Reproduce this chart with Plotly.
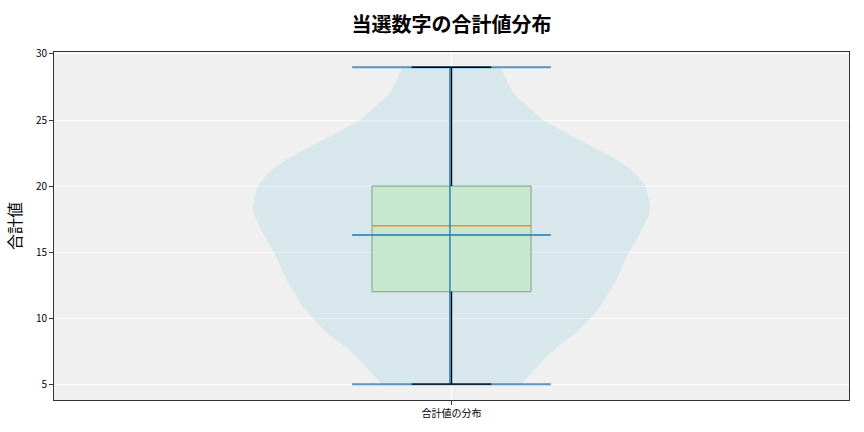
import plotly.graph_objects as go

# summary values
category = "合計値の分布"
position = 1
data_min = 5
data_max = 29
q1 = 12
median = 17
q3 = 20
mean = 16.3

# violin outline: value level and relative density (1.0 = widest)
violin_y = [5.0, 5.8, 6.8, 7.8, 8.8, 9.85, 10.9, 11.9, 12.9, 13.9, 14.9, 15.9, 16.9,
            17.9, 18.5, 18.9, 20.0, 21.0, 22.0, 23.0, 24.0, 25.0, 25.8, 27.0, 29.0]
violin_density = [0.35, 0.40, 0.46, 0.53, 0.62, 0.69, 0.75, 0.79, 0.83, 0.86, 0.89, 0.93, 0.965,
                  0.995, 1.0, 0.995, 0.975, 0.92, 0.835, 0.71, 0.58, 0.46, 0.40, 0.31, 0.245]

y_ticks = [5, 10, 15, 20, 25, 30]

VIOLIN_HALF = 0.25
BOX_HALF = 0.1
CAP_HALF = 0.05
LINE_HALF = 0.125
FONT = "Noto Sans CJK JP"

fig = go.Figure()

# violin body
left = [position - d * VIOLIN_HALF for d in violin_density]
right = [position + d * VIOLIN_HALF for d in violin_density]
fig.add_trace(go.Scatter(
    x=left + right[::-1], y=violin_y + violin_y[::-1],
    fill='toself', fillcolor='rgba(173,216,230,0.35)',
    line=dict(width=0), mode='lines', hoverinfo='skip'))

# box
fig.add_trace(go.Scatter(
    x=[position - BOX_HALF, position + BOX_HALF, position + BOX_HALF, position - BOX_HALF, position - BOX_HALF],
    y=[q1, q1, q3, q3, q1],
    fill='toself', fillcolor='#c5e8cf', mode='lines',
    line=dict(color='rgba(110,140,120,0.8)', width=1), hoverinfo='skip'))

# median
fig.add_trace(go.Scatter(x=[position - BOX_HALF, position + BOX_HALF], y=[median, median],
                         mode='lines', line=dict(color='#ec8b2c', width=1.5)))

# violin center bar and extrema / mean lines
blue = 'rgba(31,119,180,0.75)'
fig.add_trace(go.Scatter(x=[position - 0.002, position - 0.002], y=[data_min, data_max],
                         mode='lines', line=dict(color=blue, width=1.8)))
for v in [data_min, data_max, mean]:
    fig.add_trace(go.Scatter(x=[position - LINE_HALF, position + LINE_HALF], y=[v, v],
                             mode='lines', line=dict(color=blue, width=2)))

# whiskers and caps
for a, b in [(q3, data_max), (q1, data_min)]:
    fig.add_trace(go.Scatter(x=[position, position], y=[a, b], mode='lines',
                             line=dict(color='black', width=1.4)))
for v in [data_min, data_max]:
    fig.add_trace(go.Scatter(x=[position - CAP_HALF, position + CAP_HALF], y=[v, v],
                             mode='lines', line=dict(color='black', width=1.4)))

fig.update_layout(
    width=864, height=432,
    margin=dict(l=54, r=15, t=52, b=32),
    paper_bgcolor='white', plot_bgcolor='#f0f0f0',
    showlegend=False,
    font=dict(family=FONT, color='black', size=10),
    title=dict(text="<b>当選数字の合計値分布</b>", x=0.5, xref='paper', y=1 - 25 / 432, yref='container',
               xanchor='center', yanchor='middle', font=dict(size=20, family=FONT)),
    xaxis=dict(range=[0.5, 1.5], tickvals=[position], ticktext=[category],
               showgrid=True, gridcolor='white', gridwidth=1, zeroline=False,
               showline=True, linecolor='#333', linewidth=1, mirror=True,
               ticks='outside', ticklen=4, tickcolor='#333', tickfont=dict(size=10)),
    yaxis=dict(range=[3.8, 30.15], tickvals=y_ticks,
               showgrid=True, gridcolor='white', gridwidth=1, zeroline=False,
               showline=True, linecolor='#333', linewidth=1, mirror=True,
               ticks='outside', ticklen=4, tickcolor='#333', tickfont=dict(size=10),
               title=dict(text="合計値", font=dict(size=16), standoff=10)),
)

fig.write_html("out.html", config={'displayModeBar': False},
               post_script="document.body.style.margin='0px';")
